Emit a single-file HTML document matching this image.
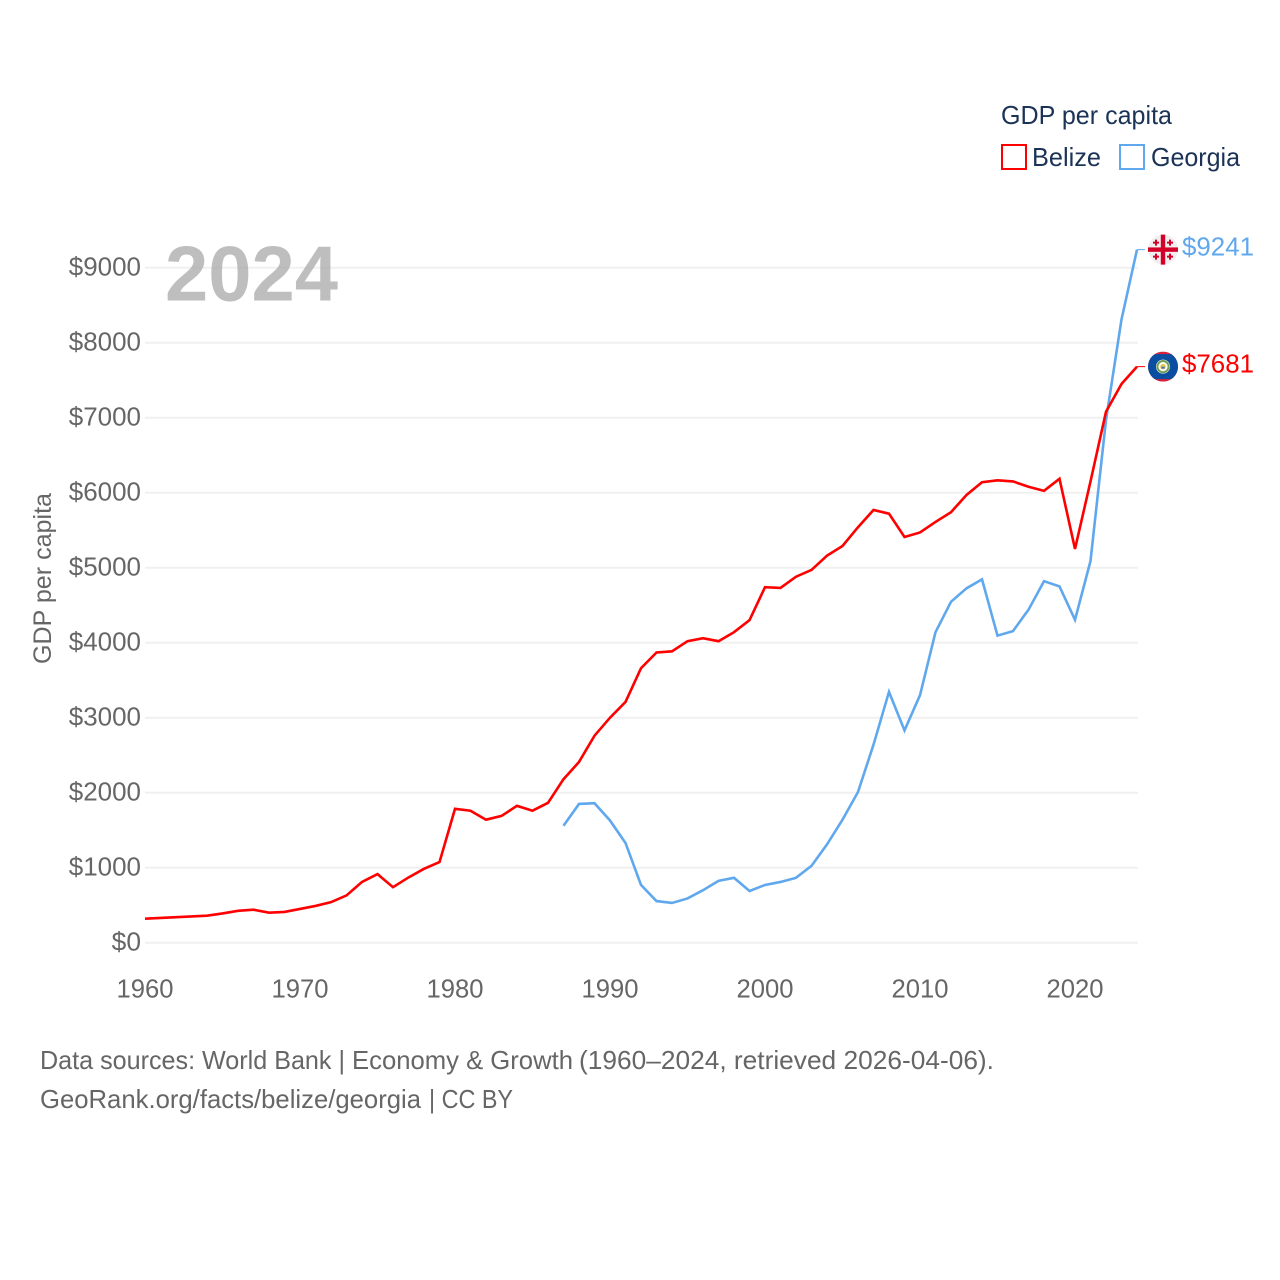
<!DOCTYPE html>
<html lang="en">
<head>
<meta charset="utf-8">
<title>GDP per capita: Belize and Georgia</title>
<style>
  html, body { margin: 0; padding: 0; background: #fff; }
  body { width: 1280px; height: 1280px; overflow: hidden; }
  svg { display: block; }
  text { font-family: "Liberation Sans", sans-serif; }
</style>
</head>
<body>
<svg id="chart" width="1280" height="1280" viewBox="0 0 1280 1280" xmlns="http://www.w3.org/2000/svg">
  <defs>
    <clipPath id="flag-clip"><circle cx="0" cy="0" r="15"></circle></clipPath>
  </defs>
  <g id="grid"></g>
  <text x="165" y="300.5" font-size="78" font-weight="700" fill="#a8a8a8" fill-opacity="0.75" textLength="173" lengthAdjust="spacingAndGlyphs">2024</text>
  <g id="y-ticks"></g>
  <g id="x-ticks"></g>
  <text transform="translate(51 664) rotate(-90)" font-size="25" fill="#666" textLength="171" lengthAdjust="spacingAndGlyphs">GDP per capita</text>
  <g id="series"></g>

  <g>
    <text x="1001" y="124" font-size="26" fill="#1b3357" textLength="171" lengthAdjust="spacingAndGlyphs">GDP per capita</text>
    <g>
      <rect x="1002" y="145" width="24" height="24" fill="none" stroke="#ff0000" stroke-width="2"></rect>
      <text x="1032" y="166" font-size="26" fill="#1b3357" textLength="69" lengthAdjust="spacingAndGlyphs">Belize</text>
    </g>
    <g>
      <rect x="1120" y="145" width="24" height="24" fill="none" stroke="#60a8ee" stroke-width="2"></rect>
      <text x="1151" y="166" font-size="26" fill="#1b3357" textLength="89" lengthAdjust="spacingAndGlyphs">Georgia</text>
    </g>
  </g>

  <g id="flag-georgia">
    <circle cx="0" cy="0" r="15" fill="#efefef"></circle>
    <rect x="-15" y="-2.2" width="30" height="4.4" fill="#d4002a"></rect>
    <rect x="-2.2" y="-15" width="4.4" height="30" fill="#d4002a"></rect>
    <path d="M-8-10h2v2h2v2h-2v2h-2v-2h-2v-2h2zM6-10h2v2h2v2h-2v2h-2v-2h-2v-2h2zM-8 4h2v2h2v2h-2v2h-2v-2h-2v-2h2zM6 4h2v2h2v2h-2v2h-2v-2h-2v-2h2z" fill="#d4002a"></path>
  </g>
  <g id="flag-belize">
    <g clip-path="url(#flag-clip)">
      <rect x="-15" y="-15" width="30" height="30" fill="#d8213a"></rect>
      <rect x="-15" y="-12.5" width="30" height="25" fill="#0a4ea2"></rect>
    </g>
    <circle cx="0" cy="0" r="7" fill="#fff"></circle>
    <circle cx="0" cy="0" r="5.6" fill="none" stroke="#6f9f55" stroke-width="2"></circle>
    <circle cx="0" cy="0" r="2.8" fill="#e8c94c"></circle>
    <rect x="-1.6" y="0" width="3.2" height="2" fill="#3a78b8"></rect>
  </g>
  <text id="value-georgia" x="1182" y="255" font-size="26" fill="#60a8ee" textLength="72" lengthAdjust="spacingAndGlyphs"></text>
  <text id="value-belize" x="1182" y="372" font-size="26" fill="#ff0000" textLength="72" lengthAdjust="spacingAndGlyphs"></text>

  <text y="1069" font-size="26" fill="#666"><tspan x="40" textLength="305" lengthAdjust="spacingAndGlyphs">Data sources: World Bank |</tspan> <tspan x="352" textLength="221" lengthAdjust="spacingAndGlyphs">Economy &amp; Growth</tspan> <tspan x="579" textLength="415" lengthAdjust="spacingAndGlyphs">(1960–2024, retrieved 2026-04-06).</tspan></text>
  <text y="1108" font-size="26" fill="#666"><tspan x="40" textLength="381" lengthAdjust="spacingAndGlyphs">GeoRank.org/facts/belize/georgia</tspan> <tspan x="429" textLength="84" lengthAdjust="spacingAndGlyphs">| CC BY</tspan></text>
</svg>

<script>
const startYear = 1960;
const xTickYears = [1960, 1970, 1980, 1990, 2000, 2010, 2020];
const yTickValues = [0, 1000, 2000, 3000, 4000, 5000, 6000, 7000, 8000, 9000];
const belizeValues = [320, 330, 340, 350, 360, 390, 425, 440, 400, 410, 450, 490, 540, 630, 810, 915, 740, 870, 985, 1075, 1785, 1760, 1640, 1690, 1825, 1760, 1865, 2180, 2410, 2760, 3000, 3210, 3660, 3870, 3885, 4020, 4060, 4020, 4140, 4300, 4740, 4730, 4880, 4970, 5160, 5290, 5540, 5770, 5720, 5410, 5470, 5610, 5740, 5970, 6140, 6165, 6150, 6080, 6025, 6185, 5250, 6150, 7080, 7450, 7681];
const georgiaStartYear = 1987;
const georgiaValues = [1560, 1850, 1860, 1630, 1330, 770, 555, 530, 590, 700, 825, 865, 690, 770, 810, 865, 1025, 1310, 1640, 2010, 2640, 3345, 2830, 3300, 4140, 4545, 4725, 4845, 4095, 4155, 4440, 4820, 4750, 4305, 5090, 6970, 8310, 9241];

const SVG_NS = 'http://www.w3.org/2000/svg';
const xAxis = function (year) { return 145 + (year - 1960) * 15.5; };
const yAxis = function (value) { return 942.7 - value * 0.075; };

const gridGroup = document.getElementById('grid');
const yTickGroup = document.getElementById('y-ticks');
const xTickGroup = document.getElementById('x-ticks');
const seriesGroup = document.getElementById('series');

yTickValues.forEach(function (value) {
  const gridLine = document.createElementNS(SVG_NS, 'line');
  
  
  gridLine.setAttribute('x1', 145);
  gridLine.setAttribute('x2', 1138);
  gridLine.setAttribute('y1', yAxis(value));
  gridLine.setAttribute('y2', yAxis(value));
  gridLine.setAttribute('stroke', '#f0f0f0');
  gridLine.setAttribute('stroke-width', 2);
  gridGroup.appendChild(gridLine);

  const tickLabel = document.createElementNS(SVG_NS, 'text');
  
  
  tickLabel.setAttribute('x', 141);
  tickLabel.setAttribute('y', yAxis(value) + 7.8);
  tickLabel.setAttribute('text-anchor', 'end');
  tickLabel.setAttribute('font-size', 26);
  tickLabel.setAttribute('fill', '#666');
  const digitCount = String(value).length;
  tickLabel.setAttribute('textLength', 15 + digitCount * 14.3);
  tickLabel.setAttribute('lengthAdjust', 'spacingAndGlyphs');
  tickLabel.textContent = '$' + value;
  yTickGroup.appendChild(tickLabel);
});

xTickYears.forEach(function (year) {
  const tickLabel = document.createElementNS(SVG_NS, 'text');
  
  
  tickLabel.setAttribute('x', xAxis(year));
  tickLabel.setAttribute('y', 997.5);
  tickLabel.setAttribute('text-anchor', 'middle');
  tickLabel.setAttribute('font-size', 26);
  tickLabel.setAttribute('fill', '#666');
  tickLabel.setAttribute('textLength', 57);
  tickLabel.setAttribute('lengthAdjust', 'spacingAndGlyphs');
  tickLabel.textContent = String(year);
  xTickGroup.appendChild(tickLabel);
});

function linePoints(values, firstYear) {
  return values.map(function (value, index) {
    return xAxis(firstYear + index).toFixed(2) + ',' + yAxis(value).toFixed(2);
  }).join(' ');
}

const georgiaLine = document.createElementNS(SVG_NS, 'polyline');


georgiaLine.setAttribute('points', linePoints(georgiaValues, georgiaStartYear));
georgiaLine.setAttribute('fill', 'none');
georgiaLine.setAttribute('stroke', '#60a8ee');
georgiaLine.setAttribute('stroke-width', 2.6);
seriesGroup.appendChild(georgiaLine);

const belizeLine = document.createElementNS(SVG_NS, 'polyline');


belizeLine.setAttribute('points', linePoints(belizeValues, startYear));
belizeLine.setAttribute('fill', 'none');
belizeLine.setAttribute('stroke', '#ff0000');
belizeLine.setAttribute('stroke-width', 2.6);
seriesGroup.appendChild(belizeLine);

const georgiaLast = georgiaValues[georgiaValues.length - 1];
const belizeLast = belizeValues[belizeValues.length - 1];

const georgiaLeader = document.createElementNS(SVG_NS, 'line');


georgiaLeader.setAttribute('x1', xAxis(2024));
georgiaLeader.setAttribute('x2', xAxis(2024) + 8);
georgiaLeader.setAttribute('y1', yAxis(georgiaLast));
georgiaLeader.setAttribute('y2', yAxis(georgiaLast));
georgiaLeader.setAttribute('stroke', '#60a8ee');
georgiaLeader.setAttribute('stroke-width', 1);
seriesGroup.appendChild(georgiaLeader);

const belizeLeader = document.createElementNS(SVG_NS, 'line');


belizeLeader.setAttribute('x1', xAxis(2024));
belizeLeader.setAttribute('x2', xAxis(2024) + 8);
belizeLeader.setAttribute('y1', yAxis(belizeLast));
belizeLeader.setAttribute('y2', yAxis(belizeLast));
belizeLeader.setAttribute('stroke', '#ff0000');
belizeLeader.setAttribute('stroke-width', 1);
seriesGroup.appendChild(belizeLeader);

document.getElementById('flag-georgia').setAttribute('transform', 'translate(1163 ' + yAxis(georgiaLast) + ')');
document.getElementById('flag-belize').setAttribute('transform', 'translate(1163 ' + yAxis(belizeLast) + ')');
const georgiaValueLabel = document.getElementById('value-georgia');
georgiaValueLabel.textContent = '$' + georgiaLast;
georgiaValueLabel.setAttribute('y', yAxis(georgiaLast) + 6);
const belizeValueLabel = document.getElementById('value-belize');
belizeValueLabel.textContent = '$' + belizeLast;
belizeValueLabel.setAttribute('y', yAxis(belizeLast) + 6);
</script>
</body>
</html>
